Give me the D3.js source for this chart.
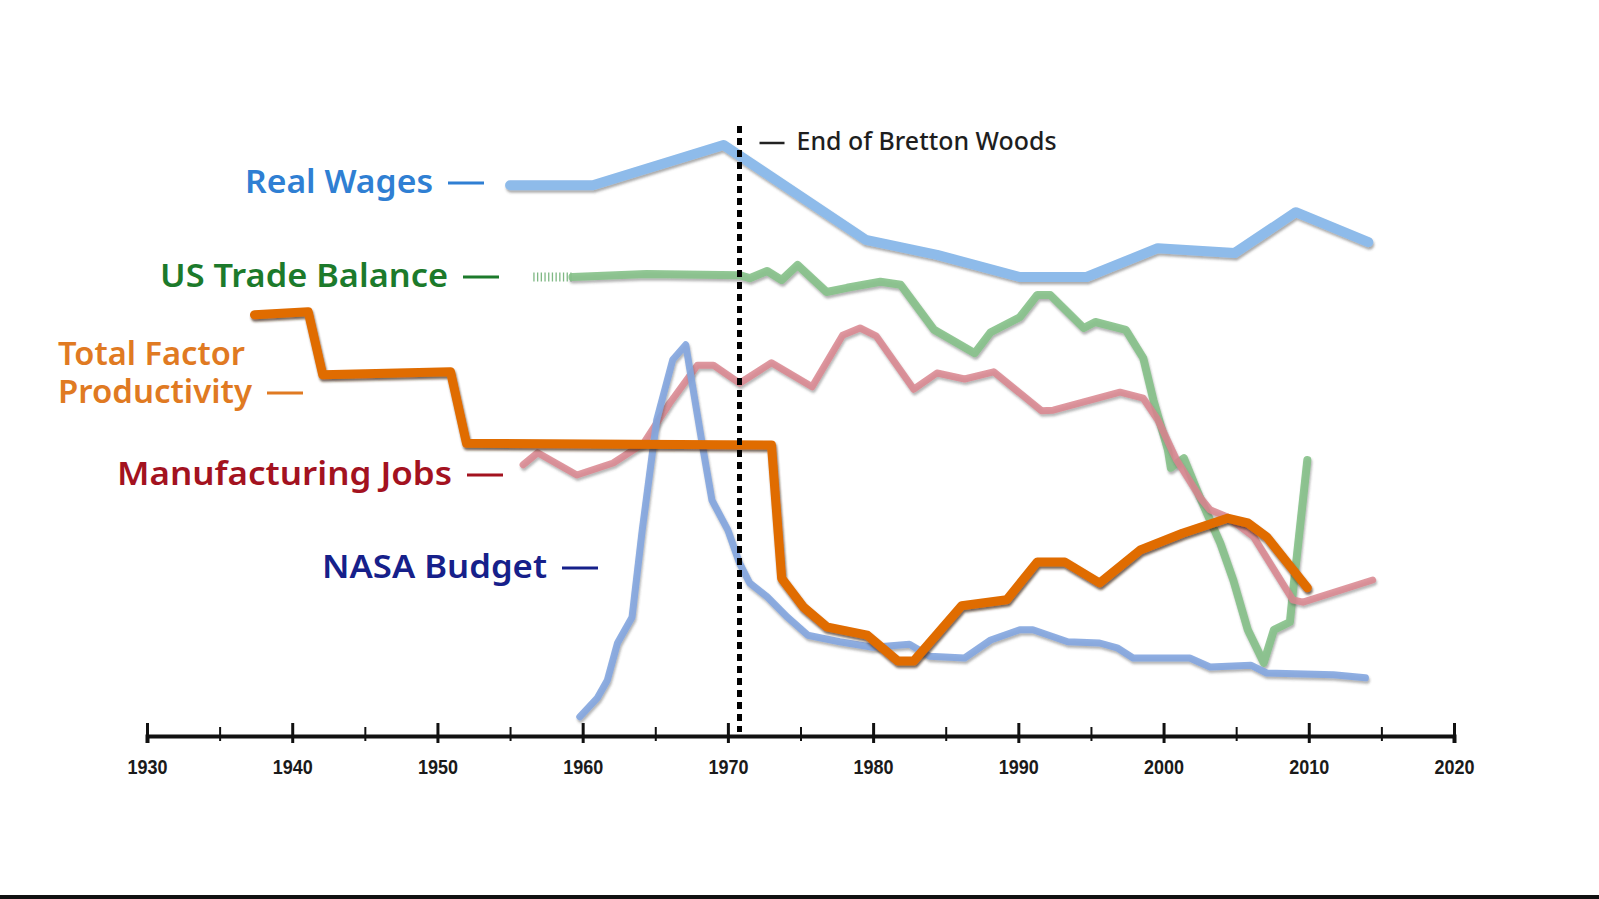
<!DOCTYPE html>
<html>
<head>
<meta charset="utf-8">
<script src="https://cdn.jsdelivr.net/npm/d3@7"></script>
<style>
  body { margin: 0; background: #fff; overflow: hidden; }
</style>
</head>
<body>
<svg id="chart" width="1599" height="899"></svg>
<script>
// Values are read off the picture. There is no y axis, so every series is
// an index where 0 sits on the time axis and 100 near the top of the plot.

var majorYears = [1930, 1940, 1950, 1960, 1970, 1980, 1990, 2000, 2010, 2020];
var minorYears = [1935, 1945, 1955, 1965, 1975, 1985, 1995, 2005, 2015];

var wageYears  = [1955.0, 1960.7, 1969.7, 1979.5, 1984.4, 1990.1, 1994.7, 1999.6, 2004.9, 2009.1, 2014.1];
var wageValues = [91.8, 91.8, 98.5, 82.7, 80.2, 76.5, 76.5, 81.3, 80.5, 87.3, 82.3];

// the hatched stub at the start of the trade balance line
var tradeLeadYears  = [1956.6, 1959.3];
var tradeLeadValues = [76.5, 76.5];

var tradeYears  = [1959.3, 1964.4, 1970.8, 1971.5, 1972.7, 1973.7, 1974.8, 1976.8, 1978.2, 1980.5,
                   1981.9, 1984.2, 1987.0, 1988.1, 1990.1, 1991.3, 1992.2, 1994.5, 1995.3, 1997.4,
                   1998.6, 1999.3, 2000.3, 2000.5, 2001.4, 2002.5, 2003.9, 2004.8, 2005.8, 2006.9,
                   2007.6, 2008.7, 2008.9, 2009.9];
var tradeValues = [76.5, 77.0, 76.8, 76.3, 77.5, 76.0, 78.5, 74.0, 74.7, 75.7,
                   75.2, 67.7, 63.8, 67.3, 69.8, 73.5, 73.5, 68.0, 69.0, 67.7,
                   63.0, 56.0, 47.7, 44.7, 46.3, 39.8, 32.2, 26.0, 17.7, 12.2,
                   17.7, 19.0, 23.8, 46.0];

var jobsYears  = [1955.9, 1956.9, 1959.6, 1962.1, 1964.2, 1966.0, 1967.9, 1969.0, 1970.8, 1973.0,
                  1975.8, 1977.9, 1979.1, 1980.2, 1982.8, 1984.4, 1986.3, 1988.3, 1991.6, 1992.4,
                  1997.0, 1998.6, 1999.6, 2000.9, 2002.5, 2003.2, 2004.4, 2006.2, 2008.9, 2009.6,
                  2014.4];
var jobsValues = [45.2, 47.2, 43.5, 45.5, 48.8, 55.5, 61.8, 61.8, 58.8, 62.2,
                  58.2, 66.8, 68.0, 66.7, 57.8, 60.5, 59.5, 60.7, 54.2, 54.3,
                  57.3, 56.3, 52.7, 46.0, 39.8, 37.7, 36.5, 33.2, 22.7, 22.3,
                  26.0];

var tfpYears  = [1937.4, 1941.1, 1942.1, 1950.9, 1952.0, 1973.0, 1973.7, 1975.2, 1976.8, 1979.6,
                 1981.7, 1982.8, 1986.1, 1989.2, 1991.3, 1993.2, 1995.6, 1998.4, 2001.3, 2004.4,
                 2005.8, 2007.1, 2009.9];
var tfpValues = [70.2, 70.7, 60.2, 60.7, 48.8, 48.5, 26.3, 21.5, 18.2, 16.8,
                 12.5, 12.5, 21.7, 22.7, 29.0, 29.0, 25.5, 31.0, 33.8, 36.3,
                 35.5, 33.2, 24.7];

var nasaYears  = [1959.8, 1961.0, 1961.7, 1962.4, 1963.4, 1964.1, 1965.1, 1966.2, 1967.1, 1967.5,
                  1968.3, 1968.9, 1970.0, 1970.8, 1971.5, 1972.7, 1974.1, 1975.5, 1977.7, 1980.0,
                  1982.5, 1983.9, 1986.3, 1988.1, 1990.1, 1991.0, 1993.4, 1995.6, 1996.8, 1997.9,
                  2001.8, 2003.2, 2006.0, 2007.1, 2011.7, 2013.9];
var nasaValues = [3.2, 6.3, 9.3, 15.5, 19.8, 34.3, 52.7, 62.7, 65.2, 59.3,
                  47.7, 39.3, 34.3, 28.8, 25.5, 23.2, 19.8, 16.8, 15.7, 14.8,
                  15.3, 13.3, 13.0, 16.0, 17.7, 17.7, 15.7, 15.5, 14.7, 13.0,
                  13.0, 11.5, 11.8, 10.5, 10.2, 9.7];

var brettonWoodsYear = 1970.8;

// series styling, drawn in this order (TFP ends up on top).
// label lines are split on "|"; widths are the measured label widths.
var series = [
  { name: "Real Wages",         years: wageYears,  values: wageValues,  color: "#8ebbea", width: 10, opacity: 1,    labelColor: "#2f7fd3", labelEnd: 433, labelY: 193, labelW: [188] },
  { name: "US Trade Balance",   years: tradeYears, values: tradeValues, color: "#86c189", width: 8,  opacity: 0.9,  labelColor: "#1c7a2b", labelEnd: 448, labelY: 287, labelW: [288] },
  { name: "Manufacturing Jobs", years: jobsYears,  values: jobsValues,  color: "#d9868f", width: 7,  opacity: 0.85, labelColor: "#a3121f", labelEnd: 452, labelY: 485, labelW: [335] },
  { name: "NASA Budget",        years: nasaYears,  values: nasaValues,  color: "#84a6df", width: 7,  opacity: 0.9,  labelColor: "#16208a", labelEnd: 547, labelY: 578, labelW: [225] },
  { name: "Total Factor|Productivity", years: tfpYears, values: tfpValues, color: "#e06c00", width: 9, opacity: 1, labelColor: "#e07a22", labelEnd: 252, labelY: 403, labelW: [187, 194] }
];

var svg = d3.select("#chart");

var x = d3.scaleLinear().domain([1930, 2020]).range([147, 1454]);
var y = d3.scaleLinear().domain([0, 100]).range([736, 136]);

// soft grey drop shadow that every line in the picture has
var defs = svg.append("defs");
defs.append("filter").attr("id", "shadow")
    .attr("x", "-5%").attr("y", "-5%").attr("width", "110%").attr("height", "115%")
  .append("feDropShadow")
    .attr("dx", 1).attr("dy", 2.5).attr("stdDeviation", 1.2)
    .attr("flood-color", "#444").attr("flood-opacity", 0.45);
defs.append("filter").attr("id", "shadowDark")
    .attr("x", "-5%").attr("y", "-5%").attr("width", "110%").attr("height", "115%")
  .append("feDropShadow")
    .attr("dx", 1).attr("dy", 2.5).attr("stdDeviation", 1)
    .attr("flood-color", "#3a2410").attr("flood-opacity", 0.7);

var line = d3.line()
  .x(function(d) { return x(d[0]); })
  .y(function(d) { return y(d[1]); });

function pairs(years, values) {
  return years.map(function(yr, i) { return [yr, values[i]]; });
}

// time axis
var axisG = svg.append("g").attr("transform", "translate(0," + y(0) + ")");

axisG.call(d3.axisBottom(x)
  .tickValues(majorYears)
  .tickFormat(d3.format("d"))
  .tickSizeOuter(0)
  .tickSize(7));
axisG.select(".domain").attr("stroke", "#111").attr("stroke-width", 4);
axisG.selectAll(".tick line").attr("y1", -13).attr("stroke", "#111").attr("stroke-width", 3);
axisG.selectAll(".tick text")
  .attr("y", 38).attr("dy", 0)
  .attr("textLength", 40)
  .attr("lengthAdjust", "spacingAndGlyphs")
  .attr("fill", "#1a1a1a")
  .style("font-family", "'Liberation Sans Narrow', 'Liberation Sans', sans-serif")
  .style("font-weight", "bold")
  .style("font-size", "21px");

var minorG = svg.append("g").attr("transform", "translate(0," + y(0) + ")");
minorG.call(d3.axisBottom(x).tickValues(minorYears).tickFormat("").tickSize(5));
minorG.select(".domain").remove();
minorG.selectAll(".tick line").attr("y1", -9).attr("stroke", "#111").attr("stroke-width", 2);

// hatched start of the trade balance line
svg.append("path")
  .datum(pairs(tradeLeadYears, tradeLeadValues))
  .attr("d", line)
  .attr("fill", "none")
  .attr("stroke", "#7fb884")
  .attr("stroke-width", 9)
  .attr("stroke-dasharray", "1.3,2.4");

// the five series
svg.selectAll("path.series")
  .data(series)
  .enter()
  .append("path")
  .attr("class", "series")
  .attr("d", function(s) { return line(pairs(s.years, s.values)); })
  .attr("fill", "none")
  .attr("stroke", function(s) { return s.color; })
  .attr("stroke-width", function(s) { return s.width; })
  .attr("stroke-opacity", function(s) { return s.opacity; })
  .attr("stroke-linejoin", "round")
  .attr("stroke-linecap", "round")
  .attr("filter", function(s) { return s.color === "#e06c00" ? "url(#shadowDark)" : "url(#shadow)"; });

// dotted marker for the end of Bretton Woods
svg.append("line")
  .attr("x1", x(brettonWoodsYear)).attr("x2", x(brettonWoodsYear))
  .attr("y1", 126).attr("y2", y(0) - 4)
  .attr("stroke", "#000")
  .attr("stroke-width", 5)
  .attr("stroke-dasharray", "7,5");

svg.append("line")
  .attr("x1", x(brettonWoodsYear) + 20).attr("x2", x(brettonWoodsYear) + 45)
  .attr("y1", 143).attr("y2", 143)
  .attr("stroke", "#222").attr("stroke-width", 2.5);

svg.append("text")
  .attr("x", x(brettonWoodsYear) + 57)
  .attr("y", 150)
  .attr("textLength", 260)
  .attr("lengthAdjust", "spacingAndGlyphs")
  .attr("fill", "#1e1e1e")
  .style("font-family", "'Noto Sans', sans-serif")
  .style("font-weight", 500)
  .style("font-size", "25px")
  .text("End of Bretton Woods");

// series labels with their trailing dash
var labelFont = "'Noto Sans', 'Open Sans', sans-serif";

series.forEach(function(s) {
  var lines = s.name.split("|");
  var g = svg.append("g");
  var t = g.append("text")
    .attr("fill", s.labelColor)
    .style("font-family", labelFont)
    .style("font-weight", 600)
    .style("font-size", "32px");
  lines.forEach(function(txt, i) {
    var w = s.labelW[i];
    var last = i === lines.length - 1;
    t.append("tspan")
      .attr("x", last ? s.labelEnd - w : 58)
      .attr("y", s.labelY - (lines.length - 1 - i) * 38)
      .attr("textLength", w)
      .attr("lengthAdjust", "spacingAndGlyphs")
      .text(txt);
  });
  g.append("line")
    .attr("x1", s.labelEnd + 15).attr("x2", s.labelEnd + 51)
    .attr("y1", s.labelY - 10).attr("y2", s.labelY - 10)
    .attr("stroke", s.labelColor).attr("stroke-width", 3);
});

// thin dark band along the bottom edge of the frame
svg.append("rect")
  .attr("x", 0).attr("y", 895).attr("width", 1599).attr("height", 4)
  .attr("fill", "#111");
</script>
</body>
</html>
